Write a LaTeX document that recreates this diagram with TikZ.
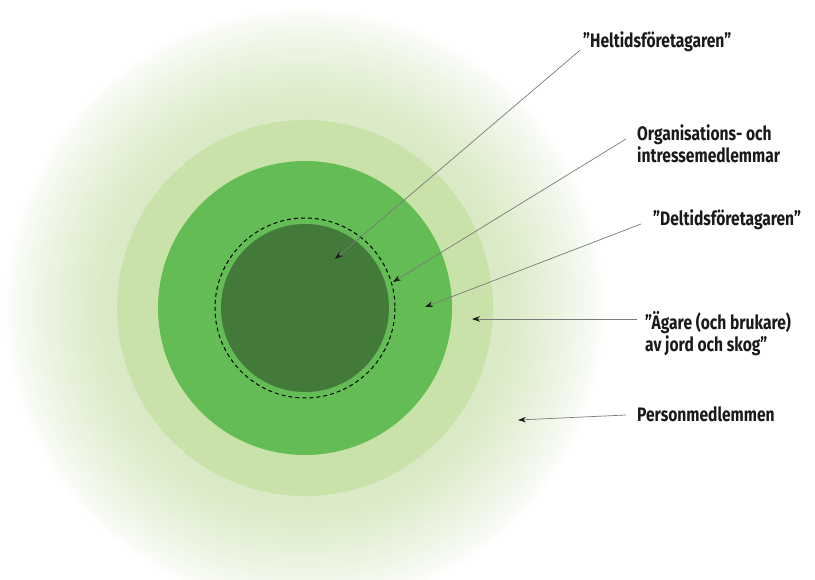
\documentclass[tikz,border=0pt]{standalone}
\usepackage{fontspec}
\setmainfont{Fira Sans}
\newfontfamily\labfont{Fira Sans}[FakeStretch=0.8]
\usetikzlibrary{arrows.meta,calc}
\definecolor{glowcol}{HTML}{DAEAC6}
\definecolor{ringcol}{HTML}{C9E2A9}
\definecolor{midcol}{HTML}{64BC55}
\definecolor{darkcol}{HTML}{437A39}
\definecolor{linegrey}{HTML}{7A7A7A}
\definecolor{tipcol}{HTML}{1A1A1A}
\begin{document}
\begin{tikzpicture}[x=1pt,y=-1pt,
  lab/.style={font=\labfont\bfseries\fontsize{19.5}{22}\selectfont, anchor=west, inner sep=0pt, align=left, text=tipcol},
  pointer/.style={draw=linegrey, line width=0.7pt, -{Stealth[length=8pt,width=5.5pt,color=tipcol]}}]
\useasboundingbox (0,0) rectangle (815,580);
\fill[white] (0,0) rectangle (815,580);
\clip (0,0) rectangle (815,580);
\coordinate (c) at (305,308);
% soft glow
\foreach \i in {0,...,60}{
  \pgfmathsetmacro{\rr}{300-\i*100/60}
  \pgfmathsetmacro{\pp}{100*(\i/60)^0.75}
  \fill[glowcol!\pp!white] (c) circle (\rr);
}
\fill[ringcol] (c) circle (188);
\fill[midcol] (c) circle (147);
\draw[black, line width=1pt, dash pattern=on 4pt off 3pt] (c) circle (90);
\fill[darkcol] (c) circle (84);
% labels
\node[lab] (h) at (583,42) {”Heltidsföretagaren”};
\node[lab] (o) at (637,144) {Organisations- och\\intressemedlemmar};
\node[lab] (d) at (653,220) {”Deltidsföretagaren”};
\node[lab] (a) at (645,334) {”Ägare (och brukare)\\av jord och skog”};
\node[lab] (p) at (637,414) {Personmedlemmen};
% arrow targets
\coordinate (t1) at (335,259);
\coordinate (t2) at (393,282);
\coordinate (t3) at (425,307);
\coordinate (t4) at (472,319);
\coordinate (t5) at (518,420);
\draw[pointer] ([shift={(-3,-2)}]h.south west) -- (t1);
\draw[pointer] ([shift={(-11,-5)}]o.west) -- (t2);
\draw[pointer] ([shift={(-12,4)}]d.west) -- (t3);
\draw[pointer] ([shift={(-8,-15)}]a.west) -- (t4);
\draw[pointer] ([shift={(-11,1)}]p.west) -- (t5);
\end{tikzpicture}
\end{document}
